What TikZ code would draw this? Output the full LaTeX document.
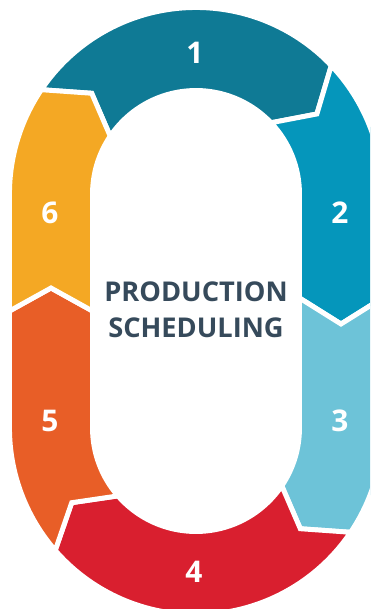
\documentclass[tikz,border=0pt]{standalone}
\usepackage{fontspec}
\setmainfont{Open Sans}
\usetikzlibrary{calc}

\definecolor{stepone}{HTML}{0F7A95}
\definecolor{steptwo}{HTML}{0596BB}
\definecolor{stepthree}{HTML}{6DC3D8}
\definecolor{stepfour}{HTML}{D91F2F}
\definecolor{stepfive}{HTML}{E85E27}
\definecolor{stepsix}{HTML}{F4A824}
\definecolor{titleslate}{HTML}{364A5B}

\newcommand\rOut{186.5}
\newcommand\rIn{103.5}
\newcommand\rMid{145}

\tikzset{
  seg/.style={draw=white,line width=2.8pt,line join=miter},
  num/.style={text=white,font=\fontsize{17}{20}\selectfont\bfseries}
}

\begin{document}
\begin{tikzpicture}[x=0.02cm,y=0.02cm]
    \useasboundingbox (-196,-298) rectangle (174,311);
    \clip (-196,-298) rectangle (174,311);
    \coordinate (T) at (0,117);
    \coordinate (B) at (0,-117);
    % ring segments, clockwise
    \path[seg,fill=stepone] ($(T)+(146:\rOut)$) arc[start angle=146,end angle=43.5,radius=\rOut]
      -- ($(T)+(33.5:\rMid)$) -- ($(T)+(43.5:\rIn)$) arc[start angle=43.5,end angle=146,radius=\rIn]
      -- ($(T)+(136:\rMid)$) -- cycle;
    \path[seg,fill=steptwo] ($(T)+(43.5:\rOut)$) arc[start angle=43.5,end angle=0,radius=\rOut]
      -- (\rOut,13) -- (145,-13) -- (\rIn,13) -- ($(T)+(\rIn,0)$) arc[start angle=0,end angle=43.5,radius=\rIn]
      -- ($(T)+(33.5:\rMid)$) -- cycle;
    \path[seg,fill=stepthree] (\rOut,13) -- ($(B)+(\rOut,0)$) arc[start angle=0,end angle=-34,radius=\rOut]
      -- ($(B)+(-44:\rMid)$) -- ($(B)+(-34:\rIn)$) arc[start angle=-34,end angle=0,radius=\rIn]
      -- (\rIn,13) -- (145,-13) -- cycle;
    \path[seg,fill=stepfour] ($(B)+(-34:\rOut)$) arc[start angle=-34,end angle=-139,radius=\rOut]
      -- ($(B)+(-149:\rMid)$) -- ($(B)+(-139:\rIn)$) arc[start angle=-139,end angle=-34,radius=\rIn]
      -- ($(B)+(-44:\rMid)$) -- cycle;
    \path[seg,fill=stepfive] ($(B)+(-139:\rOut)$) arc[start angle=-139,end angle=-180,radius=\rOut]
      -- (-\rOut,0) -- (-145,23) -- (-\rIn,0) -- ($(B)+(-\rIn,0)$) arc[start angle=-180,end angle=-139,radius=\rIn]
      -- ($(B)+(-149:\rMid)$) -- cycle;
    \path[seg,fill=stepsix] (-\rOut,0) -- ($(T)+(-\rOut,0)$) arc[start angle=180,end angle=146,radius=\rOut]
      -- ($(T)+(136:\rMid)$) -- ($(T)+(146:\rIn)$) arc[start angle=146,end angle=180,radius=\rIn]
      -- (-\rIn,0) -- (-145,23) -- cycle;
    % step numbers
    \node[num] (num1) at (-1,258) {1};
    \node[num] (num2) at (144,98) {2};
    \node[num] (num3) at (144,-110) {3};
    \node[num] (num4) at (-2,-261) {4};
    \node[num] (num5) at (-146,-110) {5};
    \node[num] (num6) at (-146,98) {6};
    \node[text=titleslate,align=center,font=\fontsize{15.5}{20.4}\selectfont\bfseries] (title) at (0,1)
      {PRODUCTION\\SCHEDULING};
\end{tikzpicture}
\end{document}
